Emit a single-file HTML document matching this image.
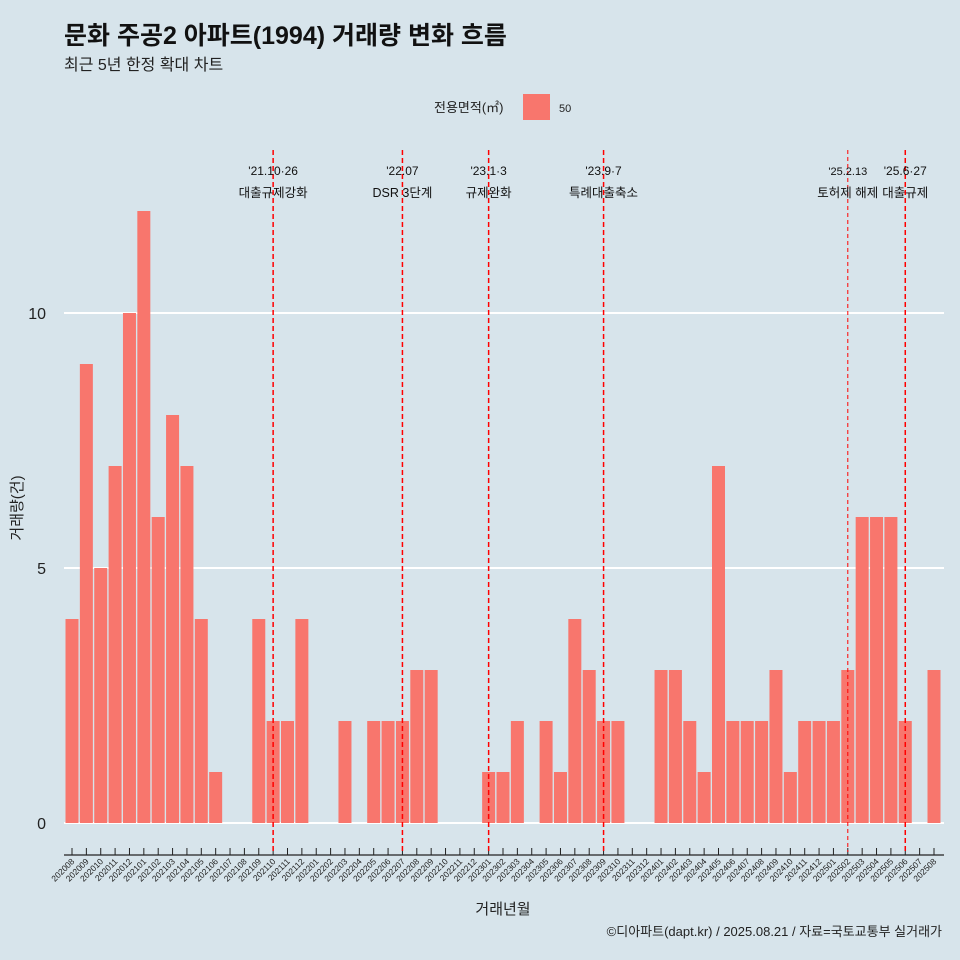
<!DOCTYPE html>
<html><head><meta charset="utf-8">
<style>
html,body{margin:0;padding:0;background:#d7e4eb;}
svg{display:block;font-family:"Liberation Sans","Noto Sans CJK KR",sans-serif;}
</style></head>
<body>
<svg id="chart" width="960" height="960" viewBox="0 0 960 960">
<rect width="960" height="960" fill="#d7e4eb"/>
<text x="64" y="44" font-size="25" font-weight="bold" fill="#111">문화 주공2 아파트(1994) 거래량 변화 흐름</text>
<text x="64" y="70" font-size="16" fill="#222">최근 5년 한정 확대 차트</text>
<g>
<text x="434" y="112" font-size="13" fill="#222">전용면적(㎡)</text>
<rect x="523" y="94" width="27" height="26" fill="#f8766d"/>
<text x="559" y="112" font-size="11" fill="#222">50</text>
</g>
<g id="plot"></g>
<text x="22" y="508" font-size="15" fill="#222" text-anchor="middle" transform="rotate(-90 22 508)">거래량(건)</text>
<text x="503" y="914" font-size="15" fill="#222" text-anchor="middle">거래년월</text>
<text x="942" y="936" font-size="13" fill="#222" text-anchor="end">©디아파트(dapt.kr) / 2025.08.21 / 자료=국토교통부 실거래가</text>
</svg>
<script>
const months = ["202008","202009","202010","202011","202012","202101","202102","202103","202104","202105","202106","202107","202108","202109","202110","202111","202112","202201","202202","202203","202204","202205","202206","202207","202208","202209","202210","202211","202212","202301","202302","202303","202304","202305","202306","202307","202308","202309","202310","202311","202312","202401","202402","202403","202404","202405","202406","202407","202408","202409","202410","202411","202412","202501","202502","202503","202504","202505","202506","202507","202508"];
const counts = [4,9,5,7,10,12,6,8,7,4,1,0,0,4,2,2,4,0,0,2,0,2,2,2,3,3,0,0,0,1,1,2,0,2,1,4,3,2,2,0,0,3,3,2,1,7,2,2,2,3,1,2,2,2,3,6,6,6,2,0,3];
const yTicks = [0,5,10];
const eventMonths = ["202110","202207","202301","202309","202502","202506"];
const eventDates = ["'21.10·26","'22.07","'23.1·3","'23.9·7","'25.2.13","'25.6·27"];
const eventLabels = ["대출규제강화","DSR 3단계","규제완화","특례대출축소","토허제 해제","대출규제"];

const NS="http://www.w3.org/2000/svg";
const plot=document.getElementById('plot');
const x0=72, step=(934-72)/60, bw=13;
const xPos=i=>x0+i*step;
const yPos=v=>823-v*51;
function mk(tag,attrs){const e=document.createElementNS(NS,tag);for(const k in attrs)e.setAttribute(k,attrs[k]);plot.appendChild(e);return e;}

yTicks.forEach(t=>{
  const l=mk('line',{x1:64,x2:944,y1:yPos(t),y2:yPos(t),stroke:'#fff','stroke-width':2});
  
  
  const tx=mk('text',{x:46,y:yPos(t)+6,'font-size':16,fill:'#222','text-anchor':'end'});
  tx.textContent=t;
  
  
});

counts.forEach((v,i)=>{
  if(v<=0)return;
  const r=mk('rect',{x:xPos(i)-bw/2,y:yPos(v),width:bw,height:yPos(0)-yPos(v),fill:'#f8766d'});
  
  
});

const ax=mk('line',{x1:64,x2:944,y1:855,y2:855,stroke:'#222','stroke-width':1.2});


months.forEach((m,i)=>{
  const x=xPos(i);
  const t=mk('line',{x1:x,x2:x,y1:848,y2:855,stroke:'#222','stroke-width':1});
  
  
  const tx=mk('text',{x:x+3,y:862,'font-size':8.5,fill:'#222','text-anchor':'end',transform:`rotate(-45 ${x+3} 862)`});
  tx.textContent=m;
  
  
});

eventMonths.forEach((m,k)=>{
  const i=months.indexOf(m), x=xPos(i);
  const thin = k===4;
  const l=mk('line',{x1:x,x2:x,y1:150,y2:852,stroke:'#ff0000','stroke-width':thin?1:1.5,'stroke-dasharray':thin?'4,3':'5,3'});
  
  
  const d=mk('text',{x:x,y:175,'font-size':thin?11:12,fill:'#111','text-anchor':'middle'});
  d.textContent=eventDates[k];
  
  
  const t=mk('text',{x:x,y:197,'font-size':12.5,fill:'#111','text-anchor':'middle'});
  t.textContent=eventLabels[k];
  
  
});
</script>
</body></html>
